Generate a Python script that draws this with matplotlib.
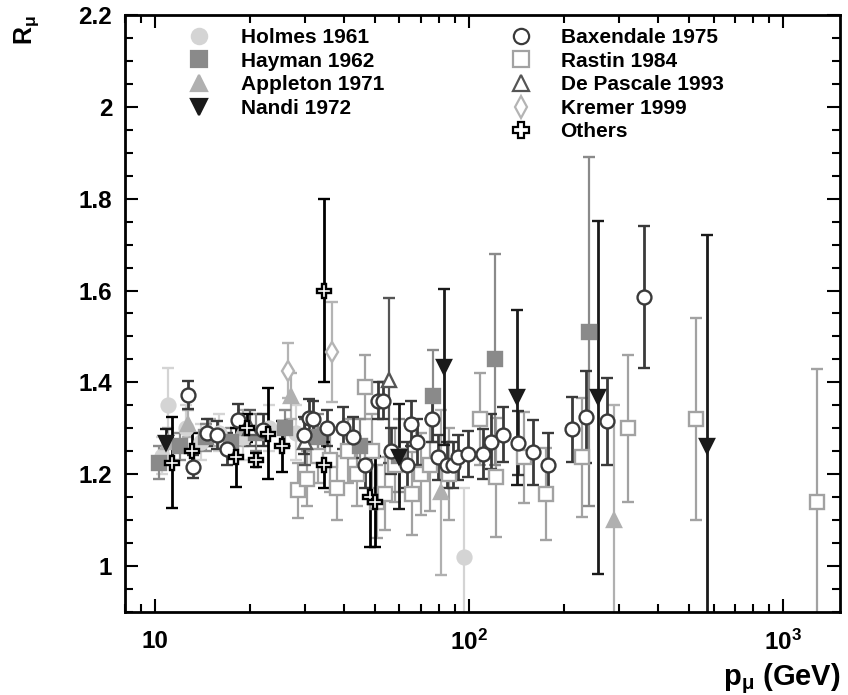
import matplotlib
matplotlib.use("Agg")
import matplotlib.pyplot as plt
from matplotlib.lines import Line2D
from matplotlib import ticker

plt.rcParams['font.family'] = ['Liberation Sans', 'DejaVu Sans']
plt.rcParams['font.weight'] = 'bold'
plt.rcParams['mathtext.fontset'] = 'custom'
plt.rcParams['mathtext.rm'] = 'Liberation Sans:bold'
plt.rcParams['mathtext.bf'] = 'Liberation Sans:bold'
plt.rcParams['mathtext.it'] = 'Liberation Sans:bold'

# p (GeV), R_mu, erro
holmes_p = [10.5, 11.0, 12.5, 14.0, 16.0, 19.0, 23.0, 28.0, 96.0]
holmes_r = [1.24, 1.35, 1.30, 1.27, 1.29, 1.28, 1.30, 1.29, 1.02]
holmes_e = [0.04, 0.08, 0.05, 0.04, 0.04, 0.05, 0.05, 0.06, 0.15]

hayman_p = [10.3, 12.0, 14.5, 17.5, 21.0, 26.0, 33.0, 45.0, 60.0, 76.5, 121.0, 240.0]
hayman_r = [1.225, 1.26, 1.28, 1.27, 1.29, 1.30, 1.28, 1.26, 1.24, 1.37, 1.45, 1.51]
hayman_e = [0.035, 0.03, 0.03, 0.03, 0.04, 0.04, 0.05, 0.06, 0.08, 0.10, 0.23, 0.38]

appleton_p = [11.0, 12.7, 15.0, 19.0, 27.0, 81.6, 289.0]
appleton_r = [1.27, 1.31, 1.29, 1.30, 1.37, 1.16, 1.10]
appleton_e = [0.03, 0.03, 0.03, 0.04, 0.05, 0.18, 0.25]

nandi_p = [10.8, 59.6, 82.9, 142.0, 258.0, 570.0]
nandi_r = [1.267, 1.238, 1.433, 1.367, 1.367, 1.262]
nandi_e = [0.03, 0.115, 0.17, 0.19, 0.385, 0.46]

baxendale_p = [12.7, 13.2, 14.6, 15.8, 17.0, 18.3, 22.1, 29.7, 30.8, 31.9, 35.3, 39.7,
               42.8, 46.7, 51.4, 53.3, 56.2, 63.6, 65.1, 68.4, 76.3, 79.3, 85.1, 89.0,
               92.3, 99.5, 111.0, 117.0, 128.0, 143.0, 160.0, 178.0, 213.0, 236.0, 275.0, 360.0]
baxendale_r = [1.372, 1.216, 1.29, 1.285, 1.255, 1.317, 1.295, 1.284, 1.323, 1.32, 1.30, 1.30,
               1.28, 1.22, 1.36, 1.36, 1.25, 1.22, 1.31, 1.27, 1.32, 1.236, 1.22, 1.22,
               1.236, 1.243, 1.243, 1.27, 1.286, 1.267, 1.247, 1.22, 1.297, 1.325, 1.315, 1.586]
baxendale_e = [0.03, 0.025, 0.03, 0.03, 0.035, 0.035, 0.035, 0.04, 0.04, 0.04, 0.04, 0.045,
               0.045, 0.05, 0.04, 0.04, 0.05, 0.05, 0.05, 0.05, 0.05, 0.05, 0.05, 0.05,
               0.05, 0.05, 0.055, 0.06, 0.06, 0.07, 0.07, 0.07, 0.07, 0.10, 0.095, 0.155]

rastin_p = [28.5, 30.5, 33.0, 36.0, 38.0, 41.0, 44.0, 46.5, 49.0, 51.0, 54.0, 58.0,
            66.0, 70.0, 75.0, 86.0, 108.0, 122.0, 150.0, 175.0, 228.0, 320.0, 527.0, 1285.0]
rastin_r = [1.165, 1.19, 1.24, 1.23, 1.17, 1.25, 1.20, 1.39, 1.25, 1.14, 1.157, 1.22,
            1.157, 1.20, 1.22, 1.20, 1.32, 1.193, 1.236, 1.157, 1.236, 1.30, 1.32, 1.138]
rastin_e = [0.06, 0.06, 0.06, 0.07, 0.07, 0.07, 0.07, 0.07, 0.08, 0.08, 0.08, 0.08,
            0.09, 0.09, 0.10, 0.10, 0.10, 0.13, 0.10, 0.10, 0.13, 0.16, 0.22, 0.29]

pascale_p = [20.0, 30.0, 55.5]
pascale_r = [1.30, 1.27, 1.404]
pascale_e = [0.04, 0.05, 0.18]

kremer_p = [26.5, 36.7]
kremer_r = [1.425, 1.466]
kremer_e = [0.06, 0.11]

outros_p = [11.3, 13.1, 18.1, 19.6, 21.0, 22.8, 25.4, 34.6, 34.4, 48.4, 50.0]
outros_r = [1.225, 1.25, 1.236, 1.30, 1.23, 1.288, 1.26, 1.60, 1.22, 1.15, 1.14]
outros_e = [0.10, 0.04, 0.065, 0.03, 0.015, 0.10, 0.055, 0.20, 0.05, 0.11, 0.10]

# estilos: label, dados, marcador, cor, face
series = [
    ('Rastin 1984', rastin_p, rastin_r, rastin_e, 's', '#a2a2a2', 'white'),
    ('Holmes 1961', holmes_p, holmes_r, holmes_e, 'o', '#d4d4d4', '#d4d4d4'),
    ('Kremer 1999', kremer_p, kremer_r, kremer_e, 'd', '#b4b4b4', 'white'),
    ('Appleton 1971', appleton_p, appleton_r, appleton_e, '^', '#b0b0b0', '#b0b0b0'),
    ('Hayman 1962', hayman_p, hayman_r, hayman_e, 's', '#8a8a8a', '#8a8a8a'),
    ('De Pascale 1993', pascale_p, pascale_r, pascale_e, '^', '#555555', 'white'),
    ('Baxendale 1975', baxendale_p, baxendale_r, baxendale_e, 'o', '#3a3a3a', 'white'),
    ('Nandi 1972', nandi_p, nandi_r, nandi_e, 'v', '#1a1a1a', '#1a1a1a'),
    ('Others', outros_p, outros_r, outros_e, 'P', '#000000', 'white'),
]

fig = plt.figure(figsize=(8.48, 6.95), dpi=100)
ax = fig.add_axes([0.147, 0.12, 0.844, 0.858])

for nome, p, r, e, mk, cor, face in series:
    lw = 2.0 if cor in ('#000000', '#1a1a1a', '#3a3a3a') else 1.6
    ax.errorbar(p, r, yerr=e, fmt=mk, color=cor, mfc=face, mec=cor, ms=10, mew=1.7,
                ecolor=cor, elinewidth=lw, capsize=4.5, capthick=lw)

ax.set_xscale('log')
ax.set_xlim(8, 1520)
ax.set_ylim(0.9, 2.2)

ax.xaxis.set_major_locator(ticker.FixedLocator([10, 100, 1000]))
ax.xaxis.set_major_formatter(ticker.FixedFormatter(['10', r'$10^{2}$', r'$10^{3}$']))
ax.xaxis.set_minor_locator(ticker.LogLocator(base=10, subs=range(2, 10)))
ax.xaxis.set_minor_formatter(ticker.NullFormatter())
ax.yaxis.set_major_locator(ticker.MultipleLocator(0.2))
ax.yaxis.set_minor_locator(ticker.MultipleLocator(0.05))
ax.yaxis.set_major_formatter(ticker.FormatStrFormatter('%g'))

ax.tick_params(which='both', direction='in', top=True, right=True, width=1.5)
ax.tick_params(which='major', length=9.5, labelsize=17.5)
ax.tick_params(axis='y', which='major', pad=9)
ax.tick_params(axis='x', which='major', pad=13)
ax.tick_params(which='minor', length=5.8)
for s in ax.spines.values():
    s.set_linewidth(2)

ax.set_xlabel(r'p$_\mu$ (GeV)', fontsize=21, fontweight='bold', loc='right', labelpad=5)
ax.set_ylabel(r'R$_\mu$', fontsize=18, fontweight='bold', loc='top', labelpad=27)

# legenda em duas colunas
def handle(nome):
    for n, p, r, e, mk, cor, face in series:
        if n == nome:
            return Line2D([], [], ls='none', marker=mk, color=cor, mfc=face, mec=cor, ms=11, mew=1.6)

col1 = ['Holmes 1961', 'Hayman 1962', 'Appleton 1971', 'Nandi 1972']
col2 = ['Baxendale 1975', 'Rastin 1984', 'De Pascale 1993', 'Kremer 1999', 'Others']
leg1 = ax.legend([handle(n) for n in col1], col1, loc='upper left', bbox_to_anchor=(0.06, 1.01),
                 frameon=False, handlelength=1.2, handletextpad=1.4, labelspacing=0.22,
                 prop={'weight': 'bold', 'size': 15})
ax.add_artist(leg1)
ax.legend([handle(n) for n in col2], col2, loc='upper left', bbox_to_anchor=(0.51, 1.01),
          frameon=False, handlelength=1.2, handletextpad=1.3, labelspacing=0.22,
          prop={'weight': 'bold', 'size': 15})

plt.savefig('out.png', dpi=100)
